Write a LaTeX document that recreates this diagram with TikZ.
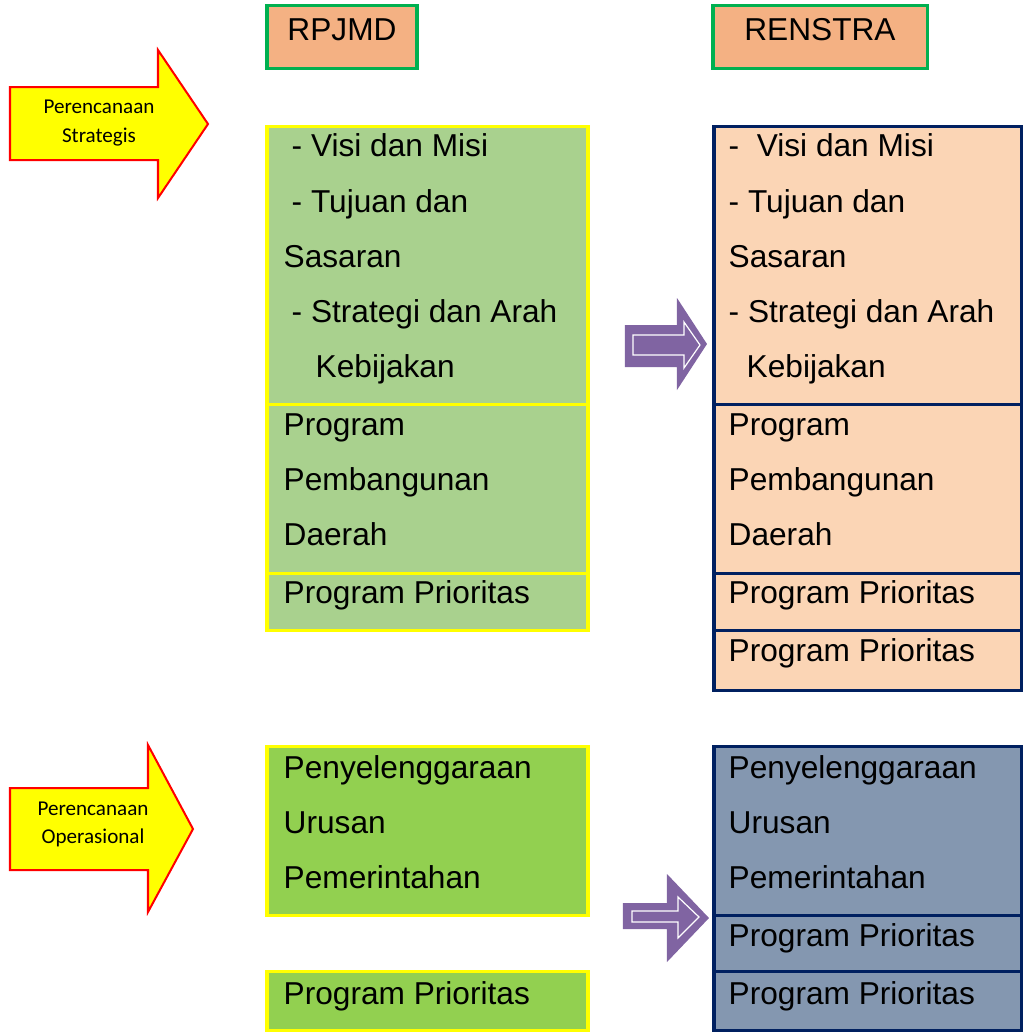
\documentclass[tikz,border=0pt]{standalone}
\usepackage{fontspec}
\setmainfont{Liberation Sans}
\newfontfamily\calibrifont{Carlito}
\usetikzlibrary{positioning}
\definecolor{hdrfill}{HTML}{F4B183}
\definecolor{hdrline}{HTML}{00B050}
\definecolor{rpfill}{HTML}{A9D18E}
\definecolor{opfill}{HTML}{92D050}
\definecolor{rsfill}{HTML}{FBD5B5}
\definecolor{rsopfill}{HTML}{8497B0}
\definecolor{navyline}{HTML}{002060}
\definecolor{flowpurple}{HTML}{8064A2}
\definecolor{planyellow}{HTML}{FFFF00}
\definecolor{planred}{HTML}{FF0000}
\tikzset{
  hdrbox/.style={fill=hdrfill, draw=hdrline, line width=0.03cm},
  rpbox/.style={draw=planyellow, line width=0.03cm},
  rsbox/.style={draw=navyline, line width=0.03cm},
  hdrtext/.style={anchor=base, inner sep=0pt},
  rowtext/.style={anchor=base west, inner sep=0pt},
  planarrow/.style={fill=planyellow, draw=planred, line width=0.02cm},
  plantext/.style={align=center, inner sep=0pt, font=\calibrifont\fontsize{6}{8}\selectfont},
  flowarrow/.style={fill=flowpurple},
  flowinner/.style={fill=flowpurple, draw=white, line width=0.012cm}
}
\begin{document}
\begin{tikzpicture}[x=0.01cm,y=-0.01cm]
\useasboundingbox (0,0) rectangle (1024,1035);
{\fontsize{9}{11}\selectfont

% Drawing header RPJMD
\draw [hdrbox] (267,5) rectangle (417,68);
\node [hdrtext] (rpjmd) at (342,40) {RPJMD};

% Drawing header RENSTRA
\draw [hdrbox] (713,5) rectangle (928,68);
\node [hdrtext] (renstra) at (820,40) {RENSTRA};

% Drawing arrow Perencanaan Strategis
\draw [planarrow] (10,87) -- (158,87) -- (158,50) -- (208,124) -- (158,198) -- (158,160) -- (10,160) -- cycle;
\node [plantext] (strategis) at (99,123) {Perencanaan\\Strategis};

% Drawing arrow Perencanaan Operasional
\draw [planarrow] (10,788) -- (148,788) -- (148,745) -- (193,829) -- (148,912) -- (148,870) -- (10,870) -- cycle;
\node [plantext] (operasional) at (93,824) {Perencanaan\\Operasional};

% Drawing box RPJMD strategis
\fill [rpfill] (267,126) rectangle (588,630);
\draw [rpbox] (267,126) rectangle (588,630);
\draw [rpbox] (267,404) -- (588,404);
\draw [rpbox] (267,573) -- (588,573);
\node [rowtext] (rp-visi) at (291,156) {- Visi dan Misi};
\node [rowtext] (rp-tujuan) at (291,212) {- Tujuan dan};
\node [rowtext] (rp-sasaran) at (283,267) {Sasaran};
\node [rowtext] (rp-strategi) at (291,322) {- Strategi dan Arah};
\node [rowtext] (rp-kebijakan) at (315,377) {Kebijakan};
\node [rowtext] (rp-program) at (283,435) {Program};
\node [rowtext] (rp-pembangunan) at (283,490) {Pembangunan};
\node [rowtext] (rp-daerah) at (283,545) {Daerah};
\node [rowtext] (rp-prioritas) at (283,603) {Program Prioritas};

% Drawing box RENSTRA strategis
\fill [rsfill] (714,126) rectangle (1022,690);
\draw [rsbox] (714,126) rectangle (1022,690);
\draw [rsbox] (714,404) -- (1022,404);
\draw [rsbox] (714,573) -- (1022,573);
\draw [rsbox] (714,630) -- (1022,630);
\node [rowtext] (rs-visi) at (728,156) {-\ \ Visi dan Misi};
\node [rowtext] (rs-tujuan) at (728,212) {- Tujuan dan};
\node [rowtext] (rs-sasaran) at (728,267) {Sasaran};
\node [rowtext] (rs-strategi) at (728,322) {- Strategi dan Arah};
\node [rowtext] (rs-kebijakan) at (746,377) {Kebijakan};
\node [rowtext] (rs-program) at (728,435) {Program};
\node [rowtext] (rs-pembangunan) at (728,490) {Pembangunan};
\node [rowtext] (rs-daerah) at (728,545) {Daerah};
\node [rowtext] (rs-prioritas) at (728,603) {Program Prioritas};
\node [rowtext] (rs-prioritas-b) at (728,661) {Program Prioritas};

% Drawing box RPJMD operasional
\fill [opfill] (267,746) rectangle (588,915);
\draw [rpbox] (267,746) rectangle (588,915);
\node [rowtext] (op-penyelenggaraan) at (283,778) {Penyelenggaraan};
\node [rowtext] (op-urusan) at (283,833) {Urusan};
\node [rowtext] (op-pemerintahan) at (283,888) {Pemerintahan};
\fill [opfill] (267,971) rectangle (588,1030);
\draw [rpbox] (267,971) rectangle (588,1030);
\node [rowtext] (op-prioritas) at (283,1004) {Program Prioritas};

% Drawing box RENSTRA operasional
\fill [rsopfill] (714,746) rectangle (1022,1030);
\draw [rsbox] (714,746) rectangle (1022,1030);
\draw [rsbox] (714,915) -- (1022,915);
\draw [rsbox] (714,971) -- (1022,971);
\node [rowtext] (ro-penyelenggaraan) at (728,778) {Penyelenggaraan};
\node [rowtext] (ro-urusan) at (728,833) {Urusan};
\node [rowtext] (ro-pemerintahan) at (728,888) {Pemerintahan};
\node [rowtext] (ro-prioritas) at (728,946) {Program Prioritas};
\node [rowtext] (ro-prioritas-b) at (728,1004) {Program Prioritas};

% Drawing arrow strategis RPJMD RENSTRA
\fill [flowarrow] (625,325) -- (677,325) -- (677,298) -- (707,344) -- (677,390) -- (677,367) -- (625,367) -- cycle;
\draw [flowinner] (633,335) -- (684,335) -- (684,322) -- (700,345) -- (684,368) -- (684,355) -- (633,355) -- cycle;

% Drawing arrow operasional RPJMD RENSTRA
\fill [flowarrow] (623,903) -- (667,903) -- (667,874) -- (709,918) -- (667,962) -- (667,929) -- (623,929) -- cycle;
\draw [flowinner] (632,911) -- (678,911) -- (678,897) -- (699,917) -- (678,938) -- (678,922) -- (632,922) -- cycle;
}
\end{tikzpicture}
\end{document}
